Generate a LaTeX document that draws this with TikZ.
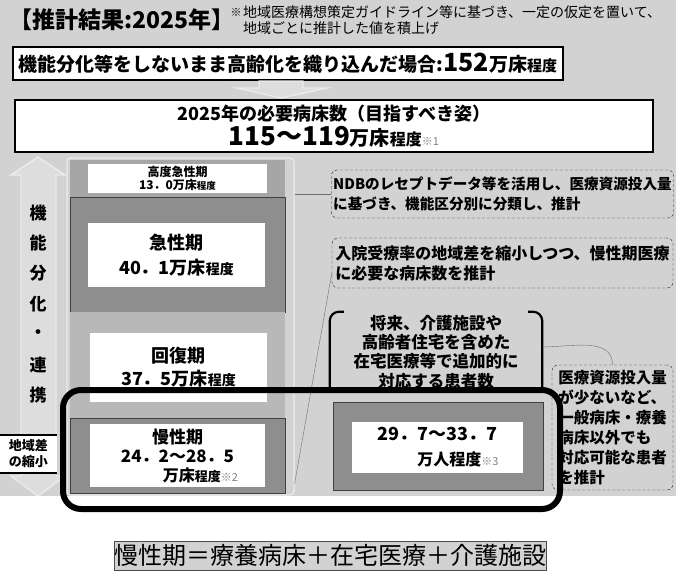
\documentclass[tikz,border=0pt]{standalone}
\usepackage{fontspec}
\setmainfont{Noto Sans CJK JP}
\usetikzlibrary{positioning}

\definecolor{paper}{HTML}{D2D2D2}
\definecolor{bedlight}{HTML}{B8B8B8}
\definecolor{bedmid}{HTML}{A6A6A6}
\definecolor{beddark}{HTML}{8E8E8E}
\definecolor{linkgray}{HTML}{6E6E6E}

\newcommand{\fsz}[1]{\fontsize{#1}{#1}\selectfont}

\tikzstyle{link} = [
    linkgray,
    thin
]

\begin{document}
\begin{tikzpicture}[
    x=1pt, y=-1pt,
    font=\bfseries,
    box/.style={
        rectangle,
        draw,
        line width=1.5pt,
        fill=white,
        align=center,
        inner sep=0pt
    },
    bed/.style={
        rectangle,
        inner sep=0pt,
        fill=bedmid
    },
    bedwhite/.style={
        rectangle,
        fill=white,
        align=center,
        inner sep=0pt
    },
    memo/.style={
        rectangle,
        draw=black!85,
        densely dashed,
        rounded corners=6pt,
        align=left,
        inner sep=2pt,
        font=\bfseries\fontsize{15.5}{20}\selectfont
    },
    hollow/.style={
        draw=white!92!black,
        line width=1.4pt,
        fill=paper!75!white
    }
]

% Background
\fill[paper] (0,0) rectangle (676,496);
\useasboundingbox (0,0) rectangle (676,570);

% Header
\node[anchor=west, font=\bfseries\fsz{23}] (title) at (6,20) {【推計結果:2025年】};
\node[anchor=west, font=\fsz{11}] (mark) at (227,12) {※};
\node[anchor=north west, align=left, inner sep=0pt, font=\fontsize{14}{16}\selectfont] (remark) at (243,5)
    {地域医療構想策定ガイドライン等に基づき、一定の仮定を置いて、\\地域ごとに推計した値を積上げ};

% Top boxes
\node[box, minimum width=550, minimum height=33, font=\bfseries\fsz{19}] (plain) at (288,63.5)
    {機能分化等をしないまま高齢化を織り込んだ場合:{\fsz{25}152}万床{\fsz{15}程度}};
\node[box, minimum width=638, minimum height=52, font=\bfseries\fontsize{18}{25}\selectfont] (target) at (334,126)
    {2025年の必要病床数（目指すべき姿）\\{\fsz{26}115～119}{\fsz{20}万床}{\fsz{16}程度}{\fsz{11}\mdseries\color{gray}※1}};
\draw[hollow] (259,81) -- (303,81) -- (303,88) -- (327,88) -- (281,98) -- (237,88) -- (259,88) -- cycle;

% Left arrow
\draw[hollow] (38,157) -- (65,175) -- (56,175) -- (56,476) -- (65,476) -- (38,496)
    -- (11,476) -- (21,476) -- (21,175) -- (11,175) -- cycle;
\foreach \ch [count=\i from 0] in {機,能,分,化,・,連,携}
    \node[font=\bfseries\fsz{17}] (side\i) at (38,213+30.3*\i) {\ch};
\node[fill=white, minimum width=57, minimum height=38, inner sep=0pt, align=center,
    font=\bfseries\fontsize{13}{16}\selectfont] (gap) at (28.5,454) {地域差\\の縮小};
\draw[line width=1.5pt] (gap.north west) -- (gap.north east);
\draw[line width=1.5pt] (gap.south west) -- (gap.south east);

% Bed column
\node[draw=white!92!black, line width=1.2pt, rounded corners=4pt, minimum width=227,
    minimum height=337, inner sep=0pt] (column) at (180.5,326.5) {};
\node[bed, minimum width=215, minimum height=37] (highframe) at (177.5,178.5) {};
\node[bedwhite, minimum width=179, minimum height=29, font=\bfseries\fontsize{12}{13.5}\selectfont] (high) at (highframe)
    {高度急性期\\13．0万床{\fsz{9.5}程度}};
\node[bed, fill=beddark, draw=black!75, line width=1pt, minimum width=215, minimum height=115] (acuteframe) at (177.5,254.5) {};
\node[bedwhite, minimum width=177, minimum height=64, font=\bfseries\fontsize{18}{25}\selectfont] (acute) at (176.5,255)
    {急性期\\40．1万床{\fsz{14}程度}};
\node[bed, fill=bedlight, minimum width=215, minimum height=106] (recoveryframe) at (177.5,365) {};
\node[bedwhite, minimum width=177, minimum height=69, font=\bfseries\fontsize{18}{23}\selectfont] (recovery) at (178.5,367.5)
    {回復期\\37．5万床{\fsz{14}程度}};
\node[bed, fill=beddark, draw=black!75, line width=1pt, minimum width=215, minimum height=75] (chronicframe) at (177.5,455.5) {};
\node[bedwhite, minimum width=175, minimum height=63, font=\bfseries\fontsize{17}{19}\selectfont] (chronic) at (177.5,455.5)
    {慢性期\\24．2～28．5\\\hspace*{46pt}{\fsz{16}万床}{\fsz{13}程度}{\fsz{11}\mdseries\color{gray}※2}};

% Right column
\node[memo, minimum width=341, minimum height=48, font=\bfseries\fontsize{14.6}{20}\selectfont] (ndb) at (502.5,194)
    {NDBのレセプトデータ等を活用し、医療資源投入量\\に基づき、機能区分別に分類し、推計};
\node[memo, minimum width=341, minimum height=50, font=\bfseries\fontsize{16}{20}\selectfont] (inpatient) at (502.5,263)
    {入院受療率の地域差を縮小しつつ、慢性期医療\\に必要な病床数を推計};
\node[minimum width=212, minimum height=80, inner sep=0pt, align=center,
    font=\bfseries\fontsize{16.5}{19.3}\selectfont] (future) at (436,352)
    {将来、介護施設や\\高齢者住宅を含めた\\在宅医療等で追加的に\\対応する患者数};
\draw[line width=2.2pt, rounded corners=9pt] ([xshift=14pt]future.north west) -- (future.north west) -- (future.south west);
\draw[line width=2.2pt, rounded corners=9pt] ([xshift=-14pt]future.north east) -- (future.north east) -- (future.south east);
\node[bed, fill=beddark, draw=black!75, line width=1pt, minimum width=210, minimum height=88] (homeframe) at (438,446) {};
\node[bedwhite, minimum width=171, minimum height=51, font=\bfseries\fontsize{18}{25}\selectfont] (home) at (437.5,447.5)
    {29．7～33．7\\\hspace*{41pt}{\fsz{16}万人程度}{\fsz{11}\mdseries\color{gray}※3}};
\node[memo, minimum width=121, minimum height=125] (spare) at (612.5,427.5)
    {医療資源投入量\\が少ないなど、\\一般病床・療養\\病床以外でも\\対応可能な患者\\を推計};

% Links
\draw[link] (column.east |- ndb.west) -- (ndb.west);
\draw[link] ([yshift=-10pt]inpatient.west) -- ([yshift=12pt]column.south east);
\draw[link] ([yshift=5pt]future.east) to[out=0, in=90] (spare.north);

% Highlight and formula
\node[draw, line width=6pt, rounded corners=18pt, minimum width=497, minimum height=119, inner sep=0pt] (focus) at (311.5,449.5) {};
\node[draw=black!70, line width=0.8pt, fill=paper, minimum width=430, minimum height=29, inner sep=0pt,
    font=\mdseries\fsz{24}] (formula) at (330,555.5) {慢性期＝療養病床＋在宅医療＋介護施設};

\end{tikzpicture}
\end{document}
